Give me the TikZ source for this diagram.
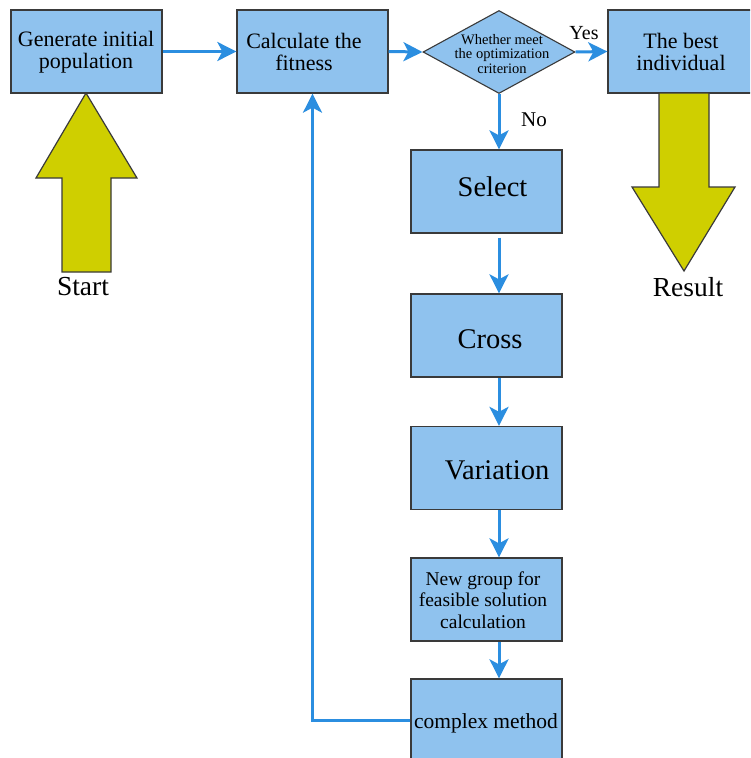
\documentclass[tikz,border=0pt]{standalone}
\usepackage{fontspec}
\setmainfont{Liberation Serif}
\usetikzlibrary{arrows.meta,shapes.geometric}
\definecolor{boxfill}{HTML}{8FC2EE}
\definecolor{boxline}{HTML}{3A3A3A}
\definecolor{flowc}{HTML}{2B8EE0}
\definecolor{bigyel}{HTML}{CFCF00}
\tikzset{
  box/.style={draw=boxline, fill=boxfill, line width=1.3pt, minimum width=151pt, minimum height=83pt, inner sep=0pt, align=center},
  flow/.style={draw=flowc, line width=3pt, -{Stealth[length=19pt,width=19pt,inset=5pt]}},
  bigarrow/.style={draw=boxline, fill=bigyel, line width=1.2pt, line join=miter},
  txt/.style={inner sep=0pt, align=center},
  midtxt/.style={txt, font=\fontsize{22}{22}\selectfont},
  bigtxt/.style={txt, font=\fontsize{28.5}{30}\selectfont},
}
\begin{document}
\begin{tikzpicture}[x=1pt,y=-1pt]
\useasboundingbox (0,0) rectangle (750,758);
\clip (0,0) rectangle (750,758);
\fill[white] (0,0) rectangle (750,758);
% boxes
\node[box] (gen) at (86.5,51.5) {};
\node[midtxt] (gent) at (86,52) {Generate initial\\population};
\node[box] (calc) at (312.5,51.5) {};
\node[midtxt] (calct) at (304,52) {Calculate the\\fitness};
\node[draw=boxline, fill=boxfill, line width=1.1pt, shape=diamond, minimum width=152pt, minimum height=83pt, inner sep=0pt] (dia) at (499,52) {};
\node[txt, font=\fontsize{14.5}{14.5}\selectfont] (diat) at (502,54) {Whether meet\\the optimization\\criterion};
\node[box] (best) at (683.5,51.5) {};
\node[midtxt] (bestt) at (681,52) {The best\\individual};
\node[box] (sel) at (486.5,191.5) {};
\node[bigtxt] (selt) at (492.5,187) {Select};
\node[box] (cross) at (486.5,335.5) {};
\node[bigtxt] (crosst) at (490,339) {Cross};
\node[box] (var) at (486.5,468) {};
\node[bigtxt] (vart) at (497,470) {Variation};
\node[box] (newg) at (486.5,599.5) {};
\node[txt, font=\fontsize{19.5}{21.5}\selectfont] (newgt) at (483,600) {New group for\\feasible solution\\calculation};
\node[box] (comp) at (486.5,720.5) {};
\node[txt, font=\fontsize{21.5}{24}\selectfont] (compt) at (486,723) {complex method};
% big yellow arrows
\draw[bigarrow] (86,93) -- (137,178) -- (111,178) -- (111,272) -- (62,272) -- (62,178) -- (36,178) -- cycle;
\draw[bigarrow] (659,93) -- (709,93) -- (709,187) -- (735,187) -- (684,271) -- (632,187) -- (659,187) -- cycle;
\node[txt, font=\fontsize{27.5}{30}\selectfont] (start) at (83,287) {Start};
\node[txt, font=\fontsize{27.5}{30}\selectfont] (result) at (688,287) {Result};
% connectors
\draw[flow] (gen.east) -- (calc.west);
\draw[flow] (calc.east) -- (dia.west);
\draw[flow] (dia.east) -- (best.west);
\node[txt, font=\fontsize{20}{22}\selectfont] (yes) at (584,33) {Yes};
\draw[flow] (dia.south) -- (dia.south |- sel.north);
\node[txt, font=\fontsize{21}{22}\selectfont] (no) at (534,120) {No};
\draw[flow] ([yshift=-4pt]dia.south |- sel.south) -- (dia.south |- cross.north);
\draw[flow] (dia.south |- cross.south) -- (dia.south |- var.north);
\draw[flow] (dia.south |- var.south) -- (dia.south |- newg.north);
\draw[flow] (dia.south |- newg.south) -- (dia.south |- comp.north);
\draw[flow] (comp.west) -| (calc.south);
\end{tikzpicture}
\end{document}
